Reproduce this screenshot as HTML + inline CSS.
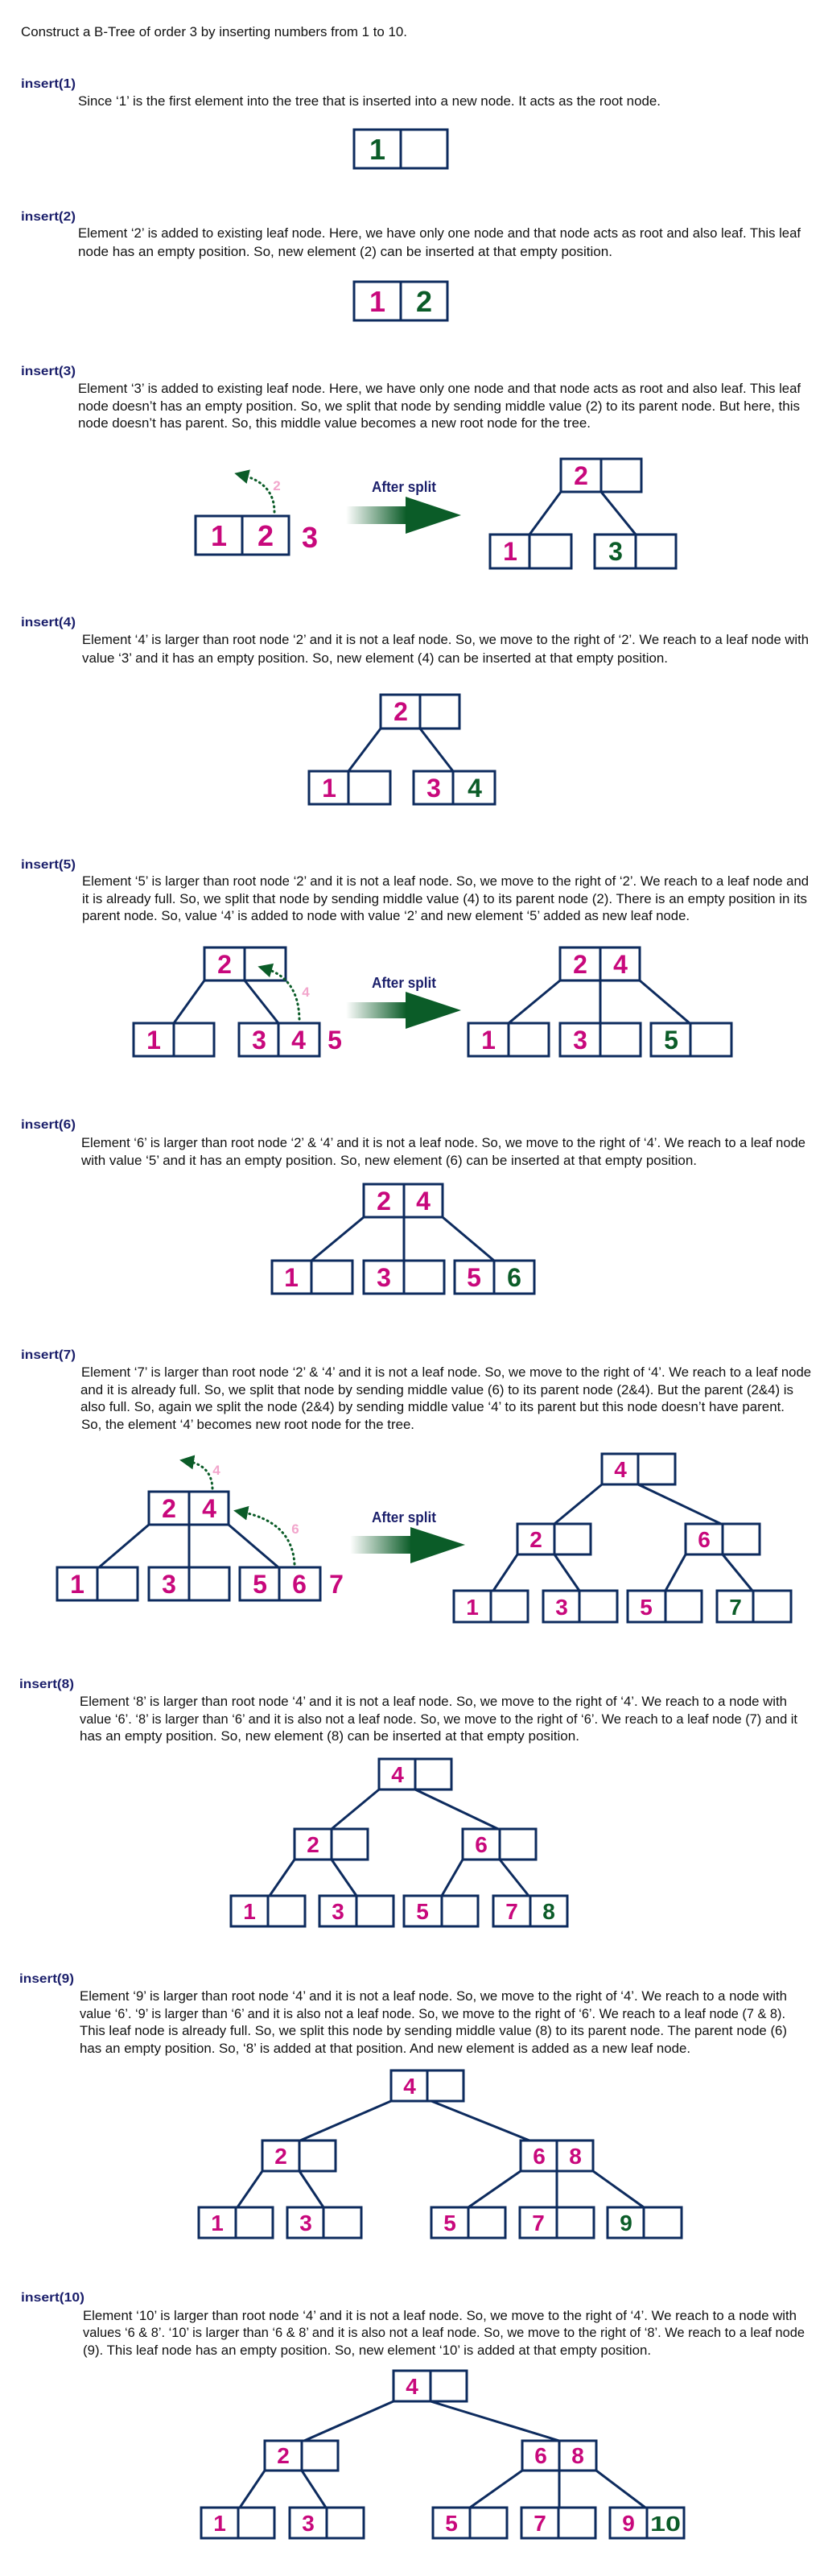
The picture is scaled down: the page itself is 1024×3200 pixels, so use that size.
<!DOCTYPE html>
<html><head><meta charset="utf-8"><style>
html,body{margin:0;padding:0;background:#fff}
svg{display:block}
.t{font-family:"Liberation Sans",sans-serif;font-size:17px;fill:#111}
.h{font-family:"Liberation Sans",sans-serif;font-size:16px;font-weight:bold;fill:#1b1f6b}
.n rect,.n line,.e{stroke:#0d2b5e;stroke-width:3;fill:none}
.d{font-family:"Liberation Sans",sans-serif;font-weight:bold;text-anchor:middle}
.m{fill:#c8087c}.g{fill:#0b5c28}.p{fill:#f2a6cc}
.a{font-family:"Liberation Sans",sans-serif;font-weight:bold;font-size:18px;fill:#1b1f6b}
.dot{stroke:#0b5c28;stroke-width:3;fill:none;stroke-dasharray:1 5;stroke-linecap:round}
</style></head><body>
<svg width="1024" height="3200" viewBox="0 0 1024 3200" xmlns="http://www.w3.org/2000/svg">
<defs>
<linearGradient id="gr" x1="0" x2="1" y1="0" y2="0"><stop offset="0" stop-color="#0b5c28" stop-opacity="0"/><stop offset="1" stop-color="#0b5c28"/></linearGradient>
<marker id="ah" markerWidth="6" markerHeight="6" refX="3" refY="3" orient="auto" markerUnits="strokeWidth"><path d="M0,0 L6,3 L0,6 z" fill="#0b5c28"/></marker>
</defs>

<text class="t" x="26" y="45" textLength="480" lengthAdjust="spacingAndGlyphs">Construct a B-Tree of order 3 by inserting numbers from 1 to 10.</text>

<!-- insert 1 -->
<text class="h" x="26" y="109" textLength="68" lengthAdjust="spacingAndGlyphs">insert(1)</text>
<text class="t" x="97" y="131" textLength="724" lengthAdjust="spacingAndGlyphs">Since ‘1’ is the first element into the tree that is inserted into a new node. It acts as the root node.</text>
<g class="n"><rect x="440" y="161" width="116" height="48"/><line x1="498" y1="161" x2="498" y2="209"/></g>
<text class="d g" x="469" y="198" font-size="36">1</text>

<!-- insert 2 -->
<text class="h" x="26" y="274" textLength="68" lengthAdjust="spacingAndGlyphs">insert(2)</text>
<text class="t" x="97" y="295" textLength="898" lengthAdjust="spacingAndGlyphs">Element ‘2’ is added to existing leaf node. Here, we have only one node and that node acts as root and also leaf. This leaf</text>
<text class="t" x="97" y="318" textLength="664" lengthAdjust="spacingAndGlyphs">node has an empty position. So, new element (2) can be inserted at that empty position.</text>
<g class="n"><rect x="440" y="350" width="116" height="48"/><line x1="498" y1="350" x2="498" y2="398"/></g>
<text class="d m" x="469" y="387" font-size="36">1</text><text class="d g" x="527" y="387" font-size="36">2</text>

<!-- insert 3 -->
<text class="h" x="26" y="466" textLength="68" lengthAdjust="spacingAndGlyphs">insert(3)</text>
<text class="t" x="97" y="488" textLength="898" lengthAdjust="spacingAndGlyphs">Element ‘3’ is added to existing leaf node. Here, we have only one node and that node acts as root and also leaf. This leaf</text>
<text class="t" x="97" y="510" textLength="897" lengthAdjust="spacingAndGlyphs">node doesn’t has an empty position. So, we split that node by sending middle value (2) to its parent node. But here, this</text>
<text class="t" x="97" y="531" textLength="637" lengthAdjust="spacingAndGlyphs">node doesn’t has parent. So, this middle value becomes a new root node for the tree.</text>
<g class="n"><rect x="243" y="641" width="116" height="48"/><line x1="301" y1="641" x2="301" y2="689"/></g>
<text class="d m" x="272" y="678" font-size="36">1</text><text class="d m" x="330" y="678" font-size="36">2</text>
<text class="d m" x="385" y="680" font-size="36">3</text>
<path class="dot" d="M341,636 Q341,600 300,590" marker-end="url(#ah)"/>
<text class="d p" x="344" y="609" font-size="17">2</text>
<text class="a" x="462" y="611" textLength="80" lengthAdjust="spacingAndGlyphs">After split</text>
<rect x="430" y="629" width="75" height="22" fill="url(#gr)"/><polygon points="504,617 573,640 504,663" fill="#0b5c28"/>
<g class="n"><rect x="697" y="570" width="100" height="41"/><line x1="747" y1="570" x2="747" y2="611"/>
<rect x="609" y="664" width="101" height="42"/><line x1="658" y1="664" x2="658" y2="706"/>
<rect x="739" y="664" width="101" height="42"/><line x1="790" y1="664" x2="790" y2="706"/>
<line x1="697" y1="611" x2="658" y2="664"/><line x1="747" y1="611" x2="790" y2="664"/></g>
<text class="d m" x="722" y="602" font-size="32">2</text><text class="d m" x="634" y="696" font-size="32">1</text><text class="d g" x="765" y="696" font-size="32">3</text>

<!-- insert 4 -->
<text class="h" x="26" y="778" textLength="68" lengthAdjust="spacingAndGlyphs">insert(4)</text>
<text class="t" x="102" y="800" textLength="903" lengthAdjust="spacingAndGlyphs">Element ‘4’ is larger than root node ‘2’ and it is not a leaf node. So, we move to the right of ‘2’. We reach to a leaf node with</text>
<text class="t" x="102" y="823" textLength="728" lengthAdjust="spacingAndGlyphs">value ‘3’ and it has an empty position. So, new element (4) can be inserted at that empty position.</text>
<g class="n"><rect x="473" y="863" width="98" height="42"/><line x1="522" y1="863" x2="522" y2="905"/>
<rect x="384" y="958" width="101" height="41"/><line x1="433" y1="958" x2="433" y2="999"/>
<rect x="514" y="958" width="101" height="41"/><line x1="563" y1="958" x2="563" y2="999"/>
<line x1="473" y1="905" x2="433" y2="958"/><line x1="522" y1="905" x2="563" y2="958"/></g>
<text class="d m" x="498" y="895" font-size="32">2</text><text class="d m" x="409" y="990" font-size="32">1</text><text class="d m" x="539" y="990" font-size="32">3</text><text class="d g" x="590" y="990" font-size="32">4</text>

<!-- insert 5 -->
<text class="h" x="26" y="1079" textLength="68" lengthAdjust="spacingAndGlyphs">insert(5)</text>
<text class="t" x="102" y="1100" textLength="903" lengthAdjust="spacingAndGlyphs">Element ‘5’ is larger  than root node ‘2’ and it is not a leaf node. So, we move to the right of ‘2’. We reach to a leaf node and</text>
<text class="t" x="102" y="1122" textLength="901" lengthAdjust="spacingAndGlyphs">it is already full. So, we split that node by sending middle value (4) to its parent node (2). There is an empty position in its</text>
<text class="t" x="102" y="1143" textLength="755" lengthAdjust="spacingAndGlyphs">parent node. So, value ‘4’ is added to node with value ‘2’ and new element ‘5’ added as new leaf node.</text>
<g class="n"><rect x="254" y="1177" width="101" height="41"/><line x1="304" y1="1177" x2="304" y2="1218"/>
<rect x="166" y="1271" width="100" height="41"/><line x1="216" y1="1271" x2="216" y2="1312"/>
<rect x="297" y="1271" width="100" height="41"/><line x1="346" y1="1271" x2="346" y2="1312"/>
<line x1="254" y1="1218" x2="216" y2="1271"/><line x1="304" y1="1218" x2="346" y2="1271"/></g>
<text class="d m" x="279" y="1209" font-size="32">2</text><text class="d m" x="191" y="1303" font-size="32">1</text><text class="d m" x="322" y="1303" font-size="32">3</text><text class="d m" x="371" y="1303" font-size="32">4</text><text class="d m" x="416" y="1303" font-size="32">5</text>
<path class="dot" d="M372,1266 Q371,1215 329,1203" marker-end="url(#ah)"/>
<text class="d p" x="380" y="1238" font-size="17">4</text>
<text class="a" x="462" y="1227" textLength="80" lengthAdjust="spacingAndGlyphs">After split</text>
<rect x="430" y="1245" width="75" height="20" fill="url(#gr)"/><polygon points="504,1232 573,1255 504,1278" fill="#0b5c28"/>
<g class="n"><rect x="696" y="1177" width="99" height="41"/><line x1="746" y1="1177" x2="746" y2="1218"/>
<rect x="582" y="1271" width="100" height="41"/><line x1="632" y1="1271" x2="632" y2="1312"/>
<rect x="696" y="1271" width="100" height="41"/><line x1="746" y1="1271" x2="746" y2="1312"/>
<rect x="809" y="1271" width="100" height="41"/><line x1="858" y1="1271" x2="858" y2="1312"/>
<line x1="696" y1="1218" x2="632" y2="1271"/><line x1="746" y1="1218" x2="746" y2="1271"/><line x1="795" y1="1218" x2="857" y2="1271"/></g>
<text class="d m" x="721" y="1209" font-size="32">2</text><text class="d m" x="771" y="1209" font-size="32">4</text>
<text class="d m" x="607" y="1303" font-size="32">1</text><text class="d m" x="721" y="1303" font-size="32">3</text><text class="d g" x="834" y="1303" font-size="32">5</text>

<!-- insert 6 -->
<text class="h" x="26" y="1402" textLength="68" lengthAdjust="spacingAndGlyphs">insert(6)</text>
<text class="t" x="101" y="1425" textLength="900" lengthAdjust="spacingAndGlyphs">Element ‘6’ is larger than root node ‘2’ &amp; ‘4’ and it is not a leaf node. So, we move to the right of ‘4’. We reach to a leaf node</text>
<text class="t" x="101" y="1447" textLength="765" lengthAdjust="spacingAndGlyphs">with value ‘5’ and it has an empty position. So, new element (6) can be inserted at that empty position.</text>
<g class="n"><rect x="452" y="1471" width="98" height="41"/><line x1="502" y1="1471" x2="502" y2="1512"/>
<rect x="338" y="1566" width="100" height="41"/><line x1="387" y1="1566" x2="387" y2="1607"/>
<rect x="452" y="1566" width="100" height="41"/><line x1="502" y1="1566" x2="502" y2="1607"/>
<rect x="565" y="1566" width="99" height="41"/><line x1="614" y1="1566" x2="614" y2="1607"/>
<line x1="452" y1="1512" x2="387" y2="1566"/><line x1="502" y1="1512" x2="502" y2="1566"/><line x1="550" y1="1512" x2="614" y2="1566"/></g>
<text class="d m" x="477" y="1503" font-size="32">2</text><text class="d m" x="526" y="1503" font-size="32">4</text>
<text class="d m" x="362" y="1598" font-size="32">1</text><text class="d m" x="477" y="1598" font-size="32">3</text><text class="d m" x="589" y="1598" font-size="32">5</text><text class="d g" x="639" y="1598" font-size="32">6</text>

<!-- insert 7 -->
<text class="h" x="26" y="1688" textLength="68" lengthAdjust="spacingAndGlyphs">insert(7)</text>
<text class="t" x="101" y="1710" textLength="907" lengthAdjust="spacingAndGlyphs">Element ‘7’ is larger  than root node ‘2’ &amp; ‘4’ and it is not a leaf node. So, we move to the right of  ‘4’. We reach to a leaf node</text>
<text class="t" x="100" y="1732" textLength="886" lengthAdjust="spacingAndGlyphs">and it is already full. So, we split that node by sending middle value (6) to its parent node (2&amp;4). But the parent (2&amp;4) is</text>
<text class="t" x="100" y="1753" textLength="875" lengthAdjust="spacingAndGlyphs">also full. So, again we split the node (2&amp;4) by sending middle value ‘4’ to its parent but this node doesn’t have parent.</text>
<text class="t" x="101" y="1775" textLength="414" lengthAdjust="spacingAndGlyphs">So, the element ‘4’ becomes new root node for the tree.</text>
<g class="n"><rect x="185" y="1853" width="99" height="41"/><line x1="235" y1="1853" x2="235" y2="1894"/>
<rect x="71" y="1947" width="100" height="41"/><line x1="121" y1="1947" x2="121" y2="1988"/>
<rect x="185" y="1947" width="100" height="41"/><line x1="235" y1="1947" x2="235" y2="1988"/>
<rect x="298" y="1947" width="100" height="41"/><line x1="347" y1="1947" x2="347" y2="1988"/>
<line x1="185" y1="1894" x2="123" y2="1947"/><line x1="235" y1="1894" x2="235" y2="1947"/><line x1="284" y1="1894" x2="346" y2="1947"/></g>
<text class="d m" x="210" y="1885" font-size="32">2</text><text class="d m" x="260" y="1885" font-size="32">4</text>
<text class="d m" x="96" y="1979" font-size="32">1</text><text class="d m" x="210" y="1979" font-size="32">3</text><text class="d m" x="323" y="1979" font-size="32">5</text><text class="d m" x="372" y="1979" font-size="32">6</text><text class="d m" x="418" y="1979" font-size="32">7</text>
<path class="dot" d="M264,1849 Q263,1820 232,1815" marker-end="url(#ah)"/>
<text class="d p" x="269" y="1832" font-size="17">4</text>
<path class="dot" d="M366,1943 Q363,1890 299,1878" marker-end="url(#ah)"/>
<text class="d p" x="367" y="1905" font-size="17">6</text>
<text class="a" x="462" y="1891" textLength="80" lengthAdjust="spacingAndGlyphs">After split</text>
<rect x="435" y="1908" width="76" height="22" fill="url(#gr)"/><polygon points="510,1897 578,1919 510,1942" fill="#0b5c28"/>
<g class="n"><rect x="748" y="1806" width="91" height="38"/><line x1="793" y1="1806" x2="793" y2="1844"/>
<rect x="643" y="1893" width="91" height="38"/><line x1="689" y1="1893" x2="689" y2="1931"/>
<rect x="852" y="1893" width="92" height="38"/><line x1="898" y1="1893" x2="898" y2="1931"/>
<rect x="564" y="1976" width="92" height="39"/><line x1="610" y1="1976" x2="610" y2="2015"/>
<rect x="675" y="1976" width="92" height="39"/><line x1="720" y1="1976" x2="720" y2="2015"/>
<rect x="780" y="1976" width="92" height="39"/><line x1="827" y1="1976" x2="827" y2="2015"/>
<rect x="891" y="1976" width="92" height="39"/><line x1="936" y1="1976" x2="936" y2="2015"/>
<line x1="748" y1="1844" x2="689" y2="1893"/><line x1="793" y1="1844" x2="896" y2="1893"/>
<line x1="643" y1="1931" x2="613" y2="1976"/><line x1="689" y1="1931" x2="720" y2="1976"/>
<line x1="852" y1="1931" x2="827" y2="1976"/><line x1="898" y1="1931" x2="935" y2="1976"/></g>
<text class="d m" x="771" y="1835" font-size="28">4</text><text class="d m" x="666" y="1922" font-size="28">2</text><text class="d m" x="875" y="1922" font-size="28">6</text>
<text class="d m" x="587" y="2006" font-size="28">1</text><text class="d m" x="698" y="2006" font-size="28">3</text><text class="d m" x="803" y="2006" font-size="28">5</text><text class="d g" x="914" y="2006" font-size="28">7</text>

<!-- insert 8 -->
<text class="h" x="24" y="2097" textLength="68" lengthAdjust="spacingAndGlyphs">insert(8)</text>
<text class="t" x="99" y="2119" textLength="879" lengthAdjust="spacingAndGlyphs">Element ‘8’ is larger than root node ‘4’ and it is not a leaf node. So, we move to the right of ‘4’.  We reach to a node with</text>
<text class="t" x="99" y="2141" textLength="892" lengthAdjust="spacingAndGlyphs">value ‘6’. ‘8’ is larger than ‘6’ and it is also not a leaf node. So, we move to the right of ‘6’. We reach to a leaf node (7) and it</text>
<text class="t" x="99" y="2162" textLength="621" lengthAdjust="spacingAndGlyphs">has an empty position. So, new element (8) can be inserted at that empty position.</text>
<g class="n"><rect x="471" y="2185" width="90" height="38"/><line x1="516" y1="2185" x2="516" y2="2223"/>
<rect x="366" y="2272" width="91" height="38"/><line x1="412" y1="2272" x2="412" y2="2310"/>
<rect x="575" y="2272" width="91" height="38"/><line x1="621" y1="2272" x2="621" y2="2310"/>
<rect x="287" y="2355" width="92" height="38"/><line x1="333" y1="2355" x2="333" y2="2393"/>
<rect x="397" y="2355" width="92" height="38"/><line x1="443" y1="2355" x2="443" y2="2393"/>
<rect x="502" y="2355" width="92" height="38"/><line x1="549" y1="2355" x2="549" y2="2393"/>
<rect x="613" y="2355" width="92" height="38"/><line x1="659" y1="2355" x2="659" y2="2393"/>
<line x1="471" y1="2223" x2="412" y2="2272"/><line x1="516" y1="2223" x2="619" y2="2272"/>
<line x1="366" y1="2310" x2="335" y2="2355"/><line x1="412" y1="2310" x2="443" y2="2355"/>
<line x1="575" y1="2310" x2="549" y2="2355"/><line x1="621" y1="2310" x2="657" y2="2355"/></g>
<text class="d m" x="494" y="2214" font-size="28">4</text><text class="d m" x="389" y="2301" font-size="28">2</text><text class="d m" x="598" y="2301" font-size="28">6</text>
<text class="d m" x="310" y="2384" font-size="28">1</text><text class="d m" x="420" y="2384" font-size="28">3</text><text class="d m" x="525" y="2384" font-size="28">5</text><text class="d m" x="636" y="2384" font-size="28">7</text><text class="d g" x="682" y="2384" font-size="28">8</text>

<!-- insert 9 -->
<text class="h" x="24" y="2463" textLength="68" lengthAdjust="spacingAndGlyphs">insert(9)</text>
<text class="t" x="99" y="2485" textLength="879" lengthAdjust="spacingAndGlyphs">Element ‘9’ is larger than root node ‘4’ and it is not a leaf node. So, we move to the right of ‘4’.  We reach to a node with</text>
<text class="t" x="99" y="2507" textLength="877" lengthAdjust="spacingAndGlyphs">value ‘6’. ‘9’ is larger than ‘6’ and it is also not a leaf node. So, we move to the right of ‘6’. We reach to a leaf node (7 &amp; 8).</text>
<text class="t" x="99" y="2528" textLength="879" lengthAdjust="spacingAndGlyphs">This leaf node is already full. So, we split this node by sending middle value (8) to its parent node. The parent node (6)</text>
<text class="t" x="99" y="2550" textLength="759" lengthAdjust="spacingAndGlyphs">has an empty position. So, ‘8’ is added at that position. And new element is added as a new leaf node.</text>
<g class="n"><rect x="486" y="2572" width="90" height="38"/><line x1="531" y1="2572" x2="531" y2="2610"/>
<rect x="326" y="2659" width="91" height="38"/><line x1="372" y1="2659" x2="372" y2="2697"/>
<rect x="647" y="2659" width="90" height="38"/><line x1="692" y1="2659" x2="692" y2="2697"/>
<rect x="247" y="2742" width="92" height="38"/><line x1="293" y1="2742" x2="293" y2="2780"/>
<rect x="357" y="2742" width="92" height="38"/><line x1="402" y1="2742" x2="402" y2="2780"/>
<rect x="536" y="2742" width="92" height="38"/><line x1="582" y1="2742" x2="582" y2="2780"/>
<rect x="646" y="2742" width="92" height="38"/><line x1="692" y1="2742" x2="692" y2="2780"/>
<rect x="755" y="2742" width="92" height="38"/><line x1="800" y1="2742" x2="800" y2="2780"/>
<line x1="486" y1="2610" x2="373" y2="2659"/><line x1="536" y1="2610" x2="658" y2="2659"/>
<line x1="326" y1="2697" x2="295" y2="2742"/><line x1="372" y1="2697" x2="402" y2="2742"/>
<line x1="647" y1="2697" x2="582" y2="2742"/><line x1="692" y1="2697" x2="692" y2="2742"/><line x1="737" y1="2697" x2="800" y2="2742"/></g>
<text class="d m" x="509" y="2601" font-size="28">4</text><text class="d m" x="349" y="2688" font-size="28">2</text><text class="d m" x="670" y="2688" font-size="28">6</text><text class="d m" x="715" y="2688" font-size="28">8</text>
<text class="d m" x="270" y="2771" font-size="28">1</text><text class="d m" x="380" y="2771" font-size="28">3</text><text class="d m" x="559" y="2771" font-size="28">5</text><text class="d m" x="669" y="2771" font-size="28">7</text><text class="d g" x="778" y="2771" font-size="28">9</text>

<!-- insert 10 -->
<text class="h" x="26" y="2859" textLength="79" lengthAdjust="spacingAndGlyphs">insert(10)</text>
<text class="t" x="103" y="2882" textLength="887" lengthAdjust="spacingAndGlyphs">Element ‘10’ is larger than root node ‘4’ and it is not a leaf node. So, we move to the right of ‘4’.  We reach to a node with</text>
<text class="t" x="103" y="2903" textLength="897" lengthAdjust="spacingAndGlyphs">values ‘6 &amp; 8’. ‘10’ is larger than ‘6 &amp; 8’ and it is also not a leaf node. So, we move to the right of ‘8’. We reach to a leaf node</text>
<text class="t" x="103" y="2925" textLength="706" lengthAdjust="spacingAndGlyphs">(9). This leaf node has an empty position. So, new element ‘10’ is added at that empty position.</text>
<g class="n"><rect x="489" y="2945" width="91" height="38"/><line x1="535" y1="2945" x2="535" y2="2983"/>
<rect x="329" y="3032" width="91" height="37"/><line x1="375" y1="3032" x2="375" y2="3069"/>
<rect x="649" y="3032" width="92" height="37"/><line x1="695" y1="3032" x2="695" y2="3069"/>
<rect x="250" y="3115" width="91" height="38"/><line x1="296" y1="3115" x2="296" y2="3153"/>
<rect x="360" y="3115" width="92" height="38"/><line x1="406" y1="3115" x2="406" y2="3153"/>
<rect x="538" y="3115" width="92" height="38"/><line x1="584" y1="3115" x2="584" y2="3153"/>
<rect x="648" y="3115" width="92" height="38"/><line x1="694" y1="3115" x2="694" y2="3153"/>
<rect x="758" y="3115" width="92" height="38"/><line x1="804" y1="3115" x2="804" y2="3153"/>
<line x1="489" y1="2983" x2="378" y2="3032"/><line x1="535" y1="2983" x2="695" y2="3032"/>
<line x1="329" y1="3069" x2="298" y2="3115"/><line x1="375" y1="3069" x2="405" y2="3115"/>
<line x1="649" y1="3069" x2="584" y2="3115"/><line x1="695" y1="3069" x2="695" y2="3115"/><line x1="741" y1="3069" x2="802" y2="3115"/></g>
<text class="d m" x="512" y="2974" font-size="28">4</text><text class="d m" x="352" y="3060" font-size="28">2</text><text class="d m" x="672" y="3060" font-size="28">6</text><text class="d m" x="718" y="3060" font-size="28">8</text>
<text class="d m" x="273" y="3144" font-size="28">1</text><text class="d m" x="383" y="3144" font-size="28">3</text><text class="d m" x="561" y="3144" font-size="28">5</text><text class="d m" x="671" y="3144" font-size="28">7</text><text class="d m" x="781" y="3144" font-size="28">9</text><text class="d g" x="827" y="3144" font-size="26" textLength="38" lengthAdjust="spacingAndGlyphs">10</text>
</svg>
</body></html>
